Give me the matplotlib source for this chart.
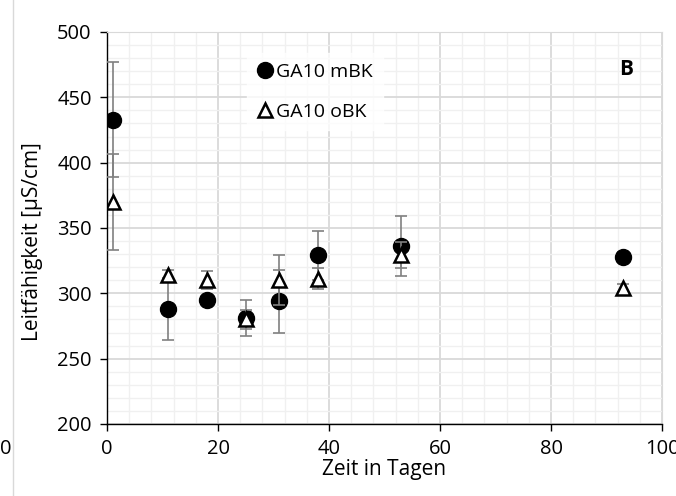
import numpy as np
import matplotlib.pyplot as plt
from matplotlib.ticker import MultipleLocator
from matplotlib.lines import Line2D

plt.rcParams['font.family'] = ['Open Sans', 'DejaVu Sans']

# Messwerte GA10
tage = [1, 11, 18, 25, 31, 38, 53, 93]
mbk = [433, 288, 295, 281, 294, 329, 336, 328]
mbk_err = [44, 24, 3, 14, 24, 19, 23, 4]
obk = [370, 314, 310, 280, 310, 311, 329, 304]
obk_err = [37, 4, 7, 7, 19, 8, 10, 3]

fig = plt.figure(figsize=(6.76, 4.96), dpi=100)
ax = fig.add_axes([0.1583, 0.1452, 0.8210, 0.7903])

err_kw = dict(ecolor='#808080', elinewidth=1.2, capsize=4.5, capthick=1.2, linestyle='none')
ax.errorbar(tage, mbk, yerr=mbk_err, fmt='none', zorder=3, **err_kw)
ax.plot(tage, mbk, 'o', color='black', markersize=11.5, linestyle='none',
        label='GA10 mBK', zorder=4)
ax.errorbar(tage, obk, yerr=obk_err, fmt='none', zorder=5, **err_kw)
ax.plot(tage, obk, '^', markerfacecolor='white', markeredgecolor='black',
        markeredgewidth=1.8, markersize=10, linestyle='none',
        label='GA10 oBK', zorder=6)

ax.set_xlim(0, 100)
ax.set_ylim(200, 500)
ax.xaxis.set_major_locator(MultipleLocator(20))
ax.xaxis.set_minor_locator(MultipleLocator(4))
ax.yaxis.set_major_locator(MultipleLocator(50))
ax.yaxis.set_minor_locator(MultipleLocator(10))
ax.grid(which='major', color='#d9d9d9', linewidth=1.3, zorder=0)
ax.grid(which='minor', color='#f0f0f0', linewidth=1.0, zorder=0)
ax.set_axisbelow(True)

ax.tick_params(which='major', direction='out', length=5, width=1, color='black',
               labelsize=14.5, pad=6)
ax.tick_params(which='minor', length=0)
for s in ['left', 'bottom']:
    ax.spines[s].set_color('black')
    ax.spines[s].set_linewidth(1)
for s in ['top', 'right']:
    ax.spines[s].set_color('#d9d9d9')

ax.set_xlabel('Zeit in Tagen', fontsize=15, labelpad=0)
ax.set_ylabel('Leitfähigkeit [µS/cm]', fontsize=15)
ax.yaxis.set_label_coords(-0.115, 0.465)

leg = ax.legend(loc='upper left', bbox_to_anchor=(0.235, 0.97), frameon=True,
                fontsize=14, handlelength=0.8, handletextpad=0.2,
                labelspacing=1.1, borderpad=0.5, fancybox=False)
leg.get_frame().set_facecolor('white')
leg.get_frame().set_edgecolor('white')

ax.text(0.948, 0.905, 'B', transform=ax.transAxes, fontsize=15,
        fontweight='bold', ha='right', va='center')

# Rand links
fig.add_artist(Line2D([0.019, 0.019], [0, 1], color='#d9d9d9', linewidth=1,
                      transform=fig.transFigure))
fig.text(0.0, 0.095, '0', fontsize=14.5, ha='left', va='center')

fig.savefig('out.png', dpi=100)
